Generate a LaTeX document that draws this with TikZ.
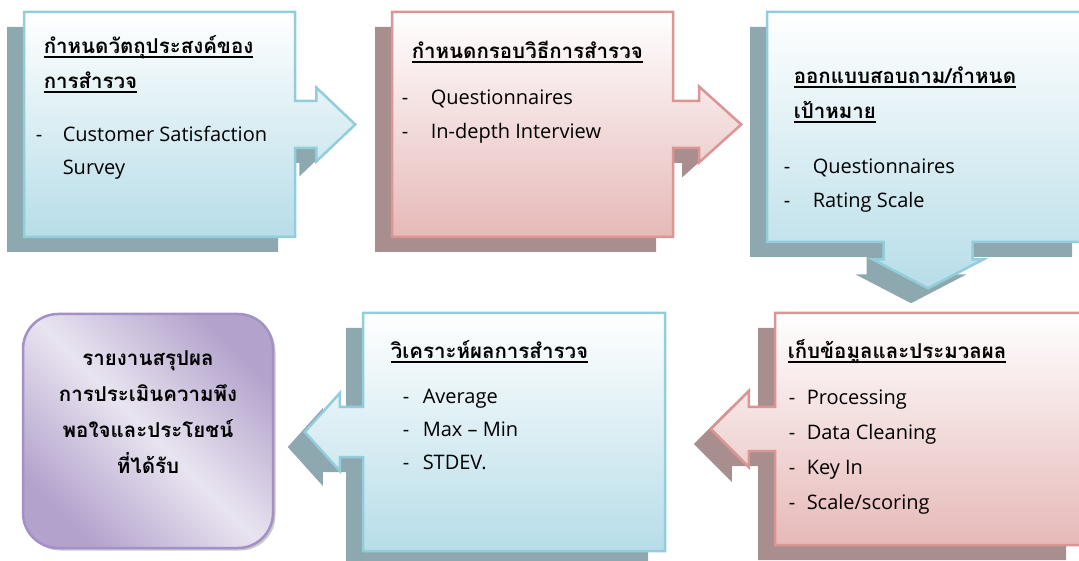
\documentclass[tikz,border=0pt]{standalone}
\usepackage{fontspec}
\setmainfont{Open Sans}
\newfontfamily\thai[Script=Thai]{Loma}
\usetikzlibrary{positioning, shapes.arrows, shadows}

\definecolor{bluefill}{HTML}{B7DDE8}
\definecolor{blueline}{HTML}{92CDDC}
\definecolor{blueshadow}{HTML}{8EA8AF}
\definecolor{redfill}{HTML}{E6B9B8}
\definecolor{redline}{HTML}{D99694}
\definecolor{redshadow}{HTML}{A88E8E}
\definecolor{purpdark}{HTML}{B3A2CC}
\definecolor{purplight}{HTML}{E9E4F0}
\definecolor{purpline}{HTML}{A390C6}

\newsavebox\ulbox
\newcommand\thul[1]{\sbox\ulbox{#1}\rlap{\rule[-4.2pt]{\wd\ulbox}{1.5pt}}\usebox\ulbox}
\newcommand\dashitem[2]{\makebox[#1][l]{-}#2}
\newcommand\topstrut{\rule{0pt}{24pt}}

\tikzset{
  flow/.style={arrow box, line width=2.5pt, inner sep=0pt},
  bluestep/.style={flow, draw=blueline, top color=white, bottom color=bluefill,
    drop shadow={shadow xshift=-17pt, shadow yshift=-15pt, opacity=1, fill=blueshadow}},
  redstep/.style={flow, draw=redline, top color=white, bottom color=redfill,
    drop shadow={shadow xshift=-17pt, shadow yshift=-15pt, opacity=1, fill=redshadow}},
  heading/.style={inner sep=0pt, outer sep=0pt, align=left,
    font=\thai\bfseries\fontsize{20.5}{35}\selectfont, execute at begin node=\topstrut},
  items/.style={inner sep=0pt, outer sep=0pt, align=left,
    font=\fontsize{20}{#1}\selectfont, execute at begin node=\topstrut},
  items/.default=34,
}

\begin{document}
\begin{tikzpicture}[x=1pt, y=1pt]
  \useasboundingbox (0,0) rectangle (1079,560);
  \clip (0,0) rectangle (1079,560);

  % top row
  \node[bluestep, minimum width=271pt, minimum height=225pt,
    arrow box arrows={east:59pt from border}, arrow box shaft width=47pt,
    arrow box head extend=13.5pt, arrow box tip angle=87] (b1) at (159.5,435.5) {};
  \node[heading, below right=25pt and 21pt of b1.north west] (h1)
    {\thul{กำหนดวัตถุประสงค์ของ}\\\thul{การสำรวจ}};
  \node[items=33, below right=115pt and 13pt of b1.north west] (l1)
    {\dashitem{27pt}{Customer Satisfaction}\\\hspace*{27pt}Survey};

  \node[redstep, minimum width=281pt, minimum height=225pt,
    arrow box arrows={east:67pt from border}, arrow box shaft width=47pt,
    arrow box head extend=14.5pt, arrow box tip angle=84] (b2) at (532.5,435.5) {};
  \node[heading, below right=24pt and 21pt of b2.north west] (h2)
    {\thul{กำหนดกรอบวิธีการสำรวจ}};
  \node[items, below right=79pt and 11pt of b2.north west] (l2)
    {\dashitem{29pt}{Questionnaires}\\\dashitem{29pt}{In-depth Interview}};

  \node[bluestep, minimum width=322pt, minimum height=230pt,
    arrow box arrows={south:45pt from border}, arrow box shaft width=89pt,
    arrow box head extend=11pt, arrow box tip angle=125] (b3) at (928,433) {};
  \node[heading, below right=56pt and 28pt of b3.north west] (h3)
    {\thul{ออกแบบสอบถาม/กำหนด}\\\thul{เป้าหมาย}};
  \node[items, below right=148pt and 18pt of b3.north west] (l3)
    {\dashitem{29pt}{Questionnaires}\\\dashitem{29pt}{Rating Scale}};

  % bottom row
  \node[redstep, minimum width=308pt, minimum height=232pt,
    arrow box arrows={west:63pt from border}, arrow box shaft width=44pt,
    arrow box head extend=16pt, arrow box tip angle=90] (b4) at (929,131) {};
  \node[heading, below right=23pt and 14pt of b4.north west] (h4)
    {\thul{เก็บข้อมูลและประมวลผล}};
  \node[items=35, below right=78pt and 15pt of b4.north west] (l4)
    {\dashitem{18pt}{Processing}\\\dashitem{18pt}{Data Cleaning}\\
     \dashitem{18pt}{Key In}\\\dashitem{18pt}{Scale/scoring}};

  \node[bluestep, minimum width=302pt, minimum height=238pt,
    arrow box arrows={west:57pt from border}, arrow box shaft width=50pt,
    arrow box head extend=14pt, arrow box tip angle=96] (b5) at (514,128) {};
  \node[heading, below right=23pt and 29pt of b5.north west] (h5)
    {\thul{วิเคราะห์ผลการสำรวจ}};
  \node[items=33, below right=77pt and 41pt of b5.north west] (l5)
    {\dashitem{20pt}{Average}\\\dashitem{20pt}{Max – Min}\\\dashitem{20pt}{STDEV.}};

  \node[draw=purpline, line width=2.5pt, rounded corners=35pt,
    minimum width=250pt, minimum height=234pt,
    left color=purpdark, right color=purpdark, middle color=purplight, shading angle=135,
    drop shadow={shadow xshift=2.5pt, shadow yshift=-2.5pt, opacity=.45, fill=black!45}] (b6) at (148,129) {};
  \node[below=38pt of b6.north, inner sep=0pt, outer sep=0pt, align=center,
    font=\thai\bfseries\fontsize{20.5}{36}\selectfont, execute at begin node=\topstrut] (t6)
    {รายงานสรุปผล\\การประเมินความพึง\\พอใจและประโยชน์\\ที่ได้รับ};
\end{tikzpicture}
\end{document}
